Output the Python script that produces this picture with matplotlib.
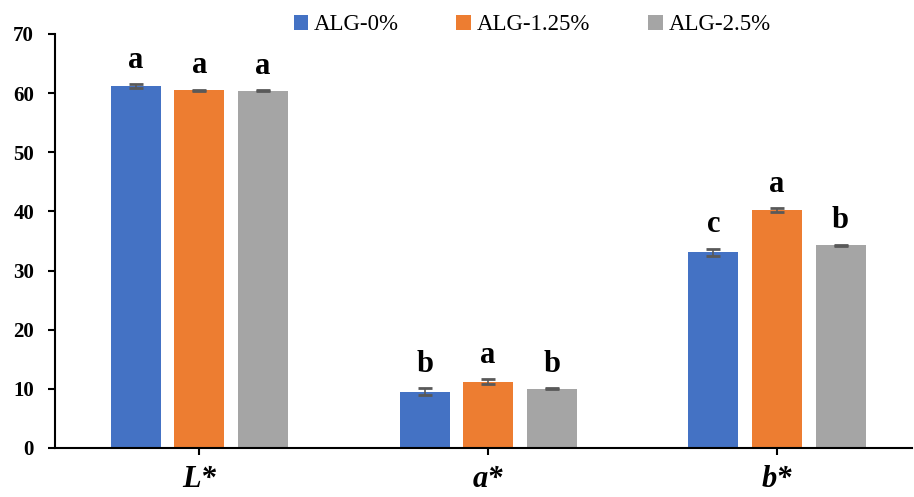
import matplotlib.pyplot as plt
import numpy as np

plt.rcParams['font.family'] = ['Liberation Serif', 'DejaVu Serif']

categories = ['L*', 'a*', 'b*']
series = ['ALG-0%', 'ALG-1.25%', 'ALG-2.5%']
values = [
    [61.2, 9.5, 33.1],
    [60.5, 11.2, 40.2],
    [60.4, 10.0, 34.3],
]
errors = [
    [0.3, 0.6, 0.6],
    [0.1, 0.4, 0.3],
    [0.1, 0.1, 0.1],
]
letters = [
    ['a', 'b', 'c'],
    ['a', 'a', 'a'],
    ['a', 'b', 'b'],
]
colors = ['#4472C4', '#ED7D31', '#A5A5A5']

fig = plt.figure(figsize=(9.14, 4.97), dpi=100)
ax = fig.add_axes([0.060, 0.0986, 0.938, 0.833])

x = np.arange(len(categories))
width = 0.173
step = 0.22

for i, name in enumerate(series):
    pos = x + (i - 1) * step
    ax.bar(pos, values[i], width, color=colors[i], label=name, zorder=2)
    ax.errorbar(pos, values[i], yerr=errors[i], fmt='none', ecolor='#595959',
                elinewidth=1.2, capsize=5, capthick=2, zorder=3)
    for p, v, e, t in zip(pos, values[i], errors[i], letters[i]):
        ax.text(p, v + e + 1.6, t, ha='center', va='bottom',
                fontsize=22, fontweight='bold')

ax.set_xlim(-0.5, 2.468)
ax.set_ylim(0, 70)
ax.set_yticks(range(0, 71, 10))
ax.set_xticks(x)
ax.set_xticklabels(categories, fontsize=22, fontweight='bold', fontstyle='italic')
for lbl in ax.get_yticklabels():
    lbl.set_fontsize(15)
    lbl.set_fontweight('bold')

ax.spines['top'].set_visible(False)
ax.spines['right'].set_visible(False)
ax.spines['left'].set_linewidth(1.5)
ax.spines['bottom'].set_linewidth(1.5)
ax.tick_params(axis='y', length=5, width=1.5, pad=10)
ax.tick_params(axis='x', length=5, width=1.5, pad=7)

ax.legend(loc='center', bbox_to_anchor=(532 / 914, 1 - 25 / 497),
          bbox_transform=fig.transFigure, ncol=3, frameon=False,
          fontsize=16.5, handlelength=0.65, handleheight=0.65, handletextpad=0.25,
          columnspacing=2.5)

fig.savefig('out.png', dpi=100)
